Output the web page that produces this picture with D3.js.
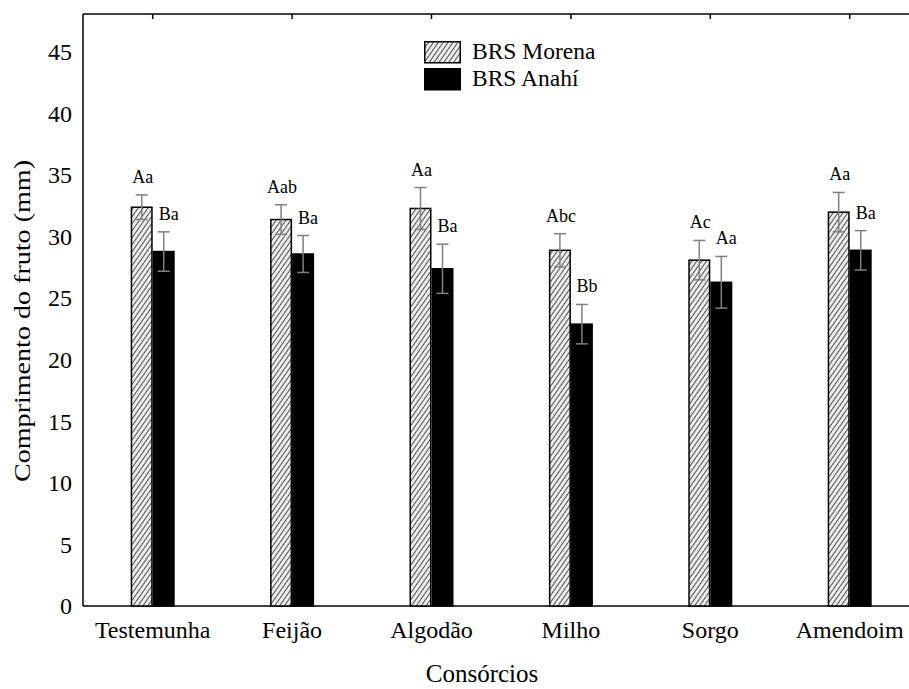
<!DOCTYPE html>
<html>
<head>
<meta charset="utf-8">
<script src="https://cdn.jsdelivr.net/npm/d3@7"></script>
<style>
  body { margin: 0; background: #fff; }
</style>
</head>
<body>
<div id="chart"></div>
<script>
const categories = ['Testemunha', 'Feijão', 'Algodão', 'Milho', 'Sorgo', 'Amendoim'];
const seriesNames = ['BRS Morena', 'BRS Anahí'];
const morena = [32.4, 31.4, 32.3, 28.9, 28.1, 32.0];
const morenaErr = [1.0, 1.2, 1.7, 1.35, 1.6, 1.6];
const morenaLabels = ['Aa', 'Aab', 'Aa', 'Abc', 'Ac', 'Aa'];
const anahi = [28.8, 28.6, 27.4, 22.9, 26.3, 28.9];
const anahiErr = [1.6, 1.5, 2.0, 1.6, 2.1, 1.6];
const anahiLabels = ['Ba', 'Ba', 'Ba', 'Bb', 'Aa', 'Ba'];
const yTicks = [0, 5, 10, 15, 20, 25, 30, 35, 40, 45];

const width = 909
    , height = 689
    , margin = {top: 14, left: 83, bottom: 83}
    , barW = 22
    , errColor = '#808080'
    , serif = "'Liberation Serif', 'Times New Roman', 'DejaVu Serif', serif"
    ;

const svg = d3.select('#chart')
  .append('svg')
  .attr('width', width)
  .attr('height', height)
  .attr('font-family', serif)
  .style('font-family', serif);

const defs = svg.append('defs');
const pat = defs.append('pattern')
  .attr('id', 'hatch')
  .attr('patternUnits', 'userSpaceOnUse')
  .attr('width', 4)
  .attr('height', 4)
  .attr('patternTransform', 'rotate(35)');
pat.append('rect').attr('width', 4).attr('height', 4).attr('fill', '#ececec');
pat.append('line')
  .attr('x1', 0).attr('y1', 0).attr('x2', 0).attr('y2', 4)
  .attr('stroke', '#2a2a2a').attr('stroke-width', 1.6);

const x = d3.scaleBand()
  .domain(categories)
  .range([margin.left, margin.left + 6 * 139.4]);

const y = d3.scaleLinear()
  .domain([0, 48.1])
  .range([height - margin.bottom, margin.top]);

// frame: left axis, bottom axis, top line
const g = svg.append('g');
g.append('line')
  .attr('x1', margin.left).attr('x2', width)
  .attr('y1', y(0)).attr('y2', y(0))
  .attr('stroke', '#000').attr('stroke-width', 1.5);
g.append('line')
  .attr('x1', margin.left).attr('x2', margin.left)
  .attr('y1', y(0)).attr('y2', margin.top)
  .attr('stroke', '#000').attr('stroke-width', 1.5);
g.append('line')
  .attr('x1', margin.left).attr('x2', width)
  .attr('y1', margin.top).attr('y2', margin.top)
  .attr('stroke', '#000').attr('stroke-width', 1.5);

// small ticks hanging from the top line
g.selectAll('.toptick')
  .data(categories)
  .join('line')
    .attr('x1', d => x(d) + x.bandwidth() / 2)
    .attr('x2', d => x(d) + x.bandwidth() / 2)
    .attr('y1', margin.top).attr('y2', margin.top + 5)
    .attr('stroke', '#000').attr('stroke-width', 1.5);

// y tick labels
g.selectAll('.ylab')
  .data(yTicks)
  .join('text')
    .attr('x', margin.left - 11)
    .attr('y', d => y(d))
    .attr('dy', '0.34em')
    .attr('text-anchor', 'end')
    .style('font-size', '24px')
    .text(d => d);

// x tick labels
g.selectAll('.xlab')
  .data(categories)
  .join('text')
    .attr('x', d => x(d) + x.bandwidth() / 2)
    .attr('y', 638)
    .attr('text-anchor', 'middle')
    .style('font-size', '24px')
    .text(d => d);

svg.append('text')
  .attr('x', 482)
  .attr('y', 682)
  .attr('text-anchor', 'middle')
  .style('font-size', '25px')
  .text('Consórcios');

svg.append('text')
  .attr('transform', 'translate(30,321) rotate(-90)')
  .attr('text-anchor', 'middle')
  .attr('textLength', 322)
  .attr('lengthAdjust', 'spacingAndGlyphs')
  .style('font-size', '23px')
  .text('Comprimento do fruto (mm)');

const series = [
  {name: seriesNames[0], vals: morena, err: morenaErr, labels: morenaLabels, off: -barW, fill: 'url(#hatch)', lab: 1},
  {name: seriesNames[1], vals: anahi, err: anahiErr, labels: anahiLabels, off: 0, fill: '#000', lab: 5}
];

series.forEach(s => {
  const rows = categories.map((c, i) => ({c, v: s.vals[i], e: s.err[i], l: s.labels[i]}));
  const cx = d => x(d.c) + x.bandwidth() / 2 + s.off + barW / 2;

  g.selectAll(null)
    .data(rows)
    .join('rect')
      .attr('x', d => cx(d) - barW / 2 + 0.75)
      .attr('width', barW - 1.5)
      .attr('y', d => y(d.v))
      .attr('height', d => y(0) - y(d.v))
      .attr('fill', s.fill)
      .attr('stroke', '#000')
      .attr('stroke-width', 1.5);

  const eb = g.selectAll(null)
    .data(rows)
    .join('g')
      .attr('stroke', errColor)
      .attr('stroke-width', 1.5);
  eb.append('line')
    .attr('x1', cx).attr('x2', cx)
    .attr('y1', d => y(d.v + d.e)).attr('y2', d => y(d.v - d.e));
  eb.append('line')
    .attr('x1', d => cx(d) - 6).attr('x2', d => cx(d) + 6)
    .attr('y1', d => y(d.v + d.e)).attr('y2', d => y(d.v + d.e));
  eb.append('line')
    .attr('x1', d => cx(d) - 6).attr('x2', d => cx(d) + 6)
    .attr('y1', d => y(d.v - d.e)).attr('y2', d => y(d.v - d.e));

  g.selectAll(null)
    .data(rows)
    .join('text')
      .attr('x', d => cx(d) + s.lab)
      .attr('y', d => y(d.v + d.e) - 12)
      .attr('text-anchor', 'middle')
      .style('font-size', '18px')
      .text(d => d.l);
});

// legend
const leg = svg.append('g').attr('transform', 'translate(424,41)');
series.forEach((s, i) => {
  leg.append('rect')
    .attr('x', 0.75).attr('y', i * 27 + 0.75)
    .attr('width', 35.5).attr('height', 21)
    .attr('fill', s.fill)
    .attr('stroke', '#000').attr('stroke-width', 1.5);
  leg.append('text')
    .attr('x', 48).attr('y', i * 27 + 18)
    .style('font-size', '23.5px')
    .text(s.name);
});
</script>
</body>
</html>
